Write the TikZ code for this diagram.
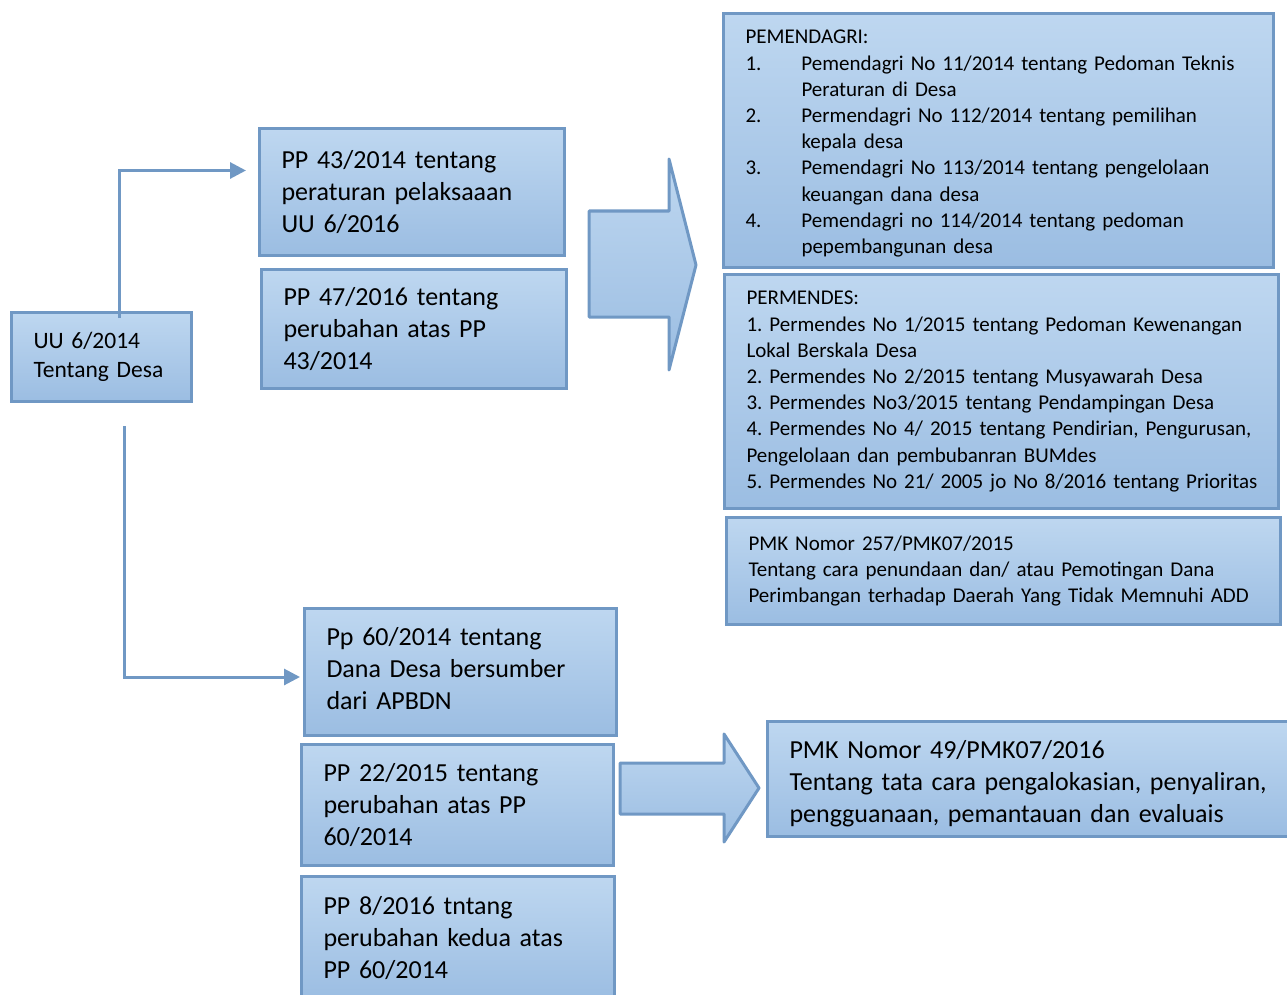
\documentclass[tikz,border=0pt]{standalone}
\usepackage{fontspec}
\setmainfont{Carlito}
\usetikzlibrary{arrows.meta}
\definecolor{boxline}{RGB}{112,152,196}
\definecolor{boxtop}{RGB}{190,215,240}
\definecolor{boxbot}{RGB}{155,189,226}
\newcommand{\itemno}[1]{\makebox[56pt][l]{#1}}
\newcommand{\itemcont}{\hspace*{56pt}}
\frenchspacing
\hyphenpenalty=10000

\begin{document}
\begin{tikzpicture}[x=1pt,y=-1pt]
    \useasboundingbox (0,0) rectangle (1287,995);

    \tikzset{lawbox/.style={draw=boxline,line width=3pt,top color=boxtop,bottom color=boxbot,
        anchor=north west,align=left,inner xsep=22pt,inner ysep=0pt}}
    \tikzset{bigtext/.style={font=\fontsize{26}{32}\selectfont}}
    \tikzset{midtext/.style={font=\fontsize{23.5}{29}\selectfont}}
    \tikzset{smalltext/.style={font=\fontsize{21}{26.2}\selectfont}}
    \tikzset{link/.style={draw=boxline,line width=3pt,-{Triangle[length=16pt,width=16pt]}}}
    \tikzset{fatarrow/.style={draw=boxline,line width=3pt,top color=boxtop,bottom color=boxbot,line join=round}}

    \node[lawbox,midtext,text width=136pt,minimum height=89pt] (uu) at (10,311) {UU 6/2014\\Tentang Desa};

    \node[lawbox,bigtext,text width=261pt,minimum height=127pt] (pp43) at (258,127)
        {PP 43/2014 tentang\\peraturan pelaksaaan\\UU 6/2016};
    \node[lawbox,bigtext,text width=261pt,minimum height=119pt] (pp47) at (260,268)
        {PP 47/2016 tentang\\perubahan atas PP\\43/2014};

    \node[lawbox,smalltext,text width=506pt,minimum height=254pt] (pemendagri) at (722,12)
        {\rule{0pt}{20pt}PEMENDAGRI:\\
         \itemno{1.}Pemendagri No 11/2014 tentang Pedoman Teknis\\
         \itemcont Peraturan di Desa\\
         \itemno{2.}Permendagri No 112/2014 tentang pemilihan\\
         \itemcont kepala desa\\
         \itemno{3.}Pemendagri No 113/2014 tentang pengelolaan\\
         \itemcont keuangan dana desa\\
         \itemno{4.}Pemendagri no 114/2014 tentang pedoman\\
         \itemcont pepembangunan desa};
    \node[lawbox,smalltext,text width=510pt,minimum height=234pt] (permendes) at (723,273)
        {PERMENDES:\\
         1. Permendes No 1/2015 tentang Pedoman Kewenangan\\
         Lokal Berskala Desa\\
         2. Permendes No 2/2015 tentang Musyawarah Desa\\
         3. Permendes No3/2015 tentang Pendampingan Desa\\
         4. Permendes No 4/ 2015 tentang Pendirian, Pengurusan,\\
         Pengelolaan dan pembubanran BUMdes\\
         \mbox{5. Permendes No 21/ 2005 jo No 8/2016 tentang Prioritas}};
    \node[lawbox,smalltext,text width=510pt,minimum height=107pt] (pmk257) at (725,516)
        {PMK Nomor 257/PMK07/2015\\
         Tentang cara penundaan dan/ atau Pemotingan Dana\\
         Perimbangan terhadap Daerah Yang Tidak Memnuhi ADD};

    \node[lawbox,bigtext,text width=268pt,minimum height=127pt] (pp60) at (303,607)
        {Pp 60/2014 tentang\\Dana Desa bersumber\\dari APBDN\rule[-7pt]{0pt}{7pt}};
    \node[lawbox,bigtext,text width=268pt,minimum height=121pt] (pp22) at (300,743)
        {PP 22/2015 tentang\\perubahan atas PP\\60/2014};
    \node[lawbox,bigtext,text width=269pt,minimum height=124pt] (pp8) at (300,875)
        {PP 8/2016 tntang\\perubahan kedua atas\\PP 60/2014};

    \node[lawbox,bigtext,text width=496pt,minimum height=115pt] (pmk49) at (766,720)
        {\rule{0pt}{28pt}PMK Nomor 49/PMK07/2016\\
         Tentang tata cara pengalokasian, penyaliran,\\
         pengguanaan, pemantauan dan evaluais};

    % block arrows
    \draw[fatarrow] (589,211) -- (669,211) -- (669,159) -- (696,265) -- (669,370) -- (669,317) -- (589,317) -- cycle;
    \draw[fatarrow] (620,763) -- (724,763) -- (724,734) -- (759,788) -- (724,842) -- (724,814) -- (620,814) -- cycle;

    % connectors
    \draw[link,shorten <=-7pt,shorten >=12pt] ([xshift=18pt]uu.north) |- ([yshift=21.5pt]pp43.west);
    \draw[link,shorten <=23pt,shorten >=3pt] ([xshift=23pt]uu.south) |- ([yshift=-5pt]pp60.west);
\end{tikzpicture}
\end{document}
